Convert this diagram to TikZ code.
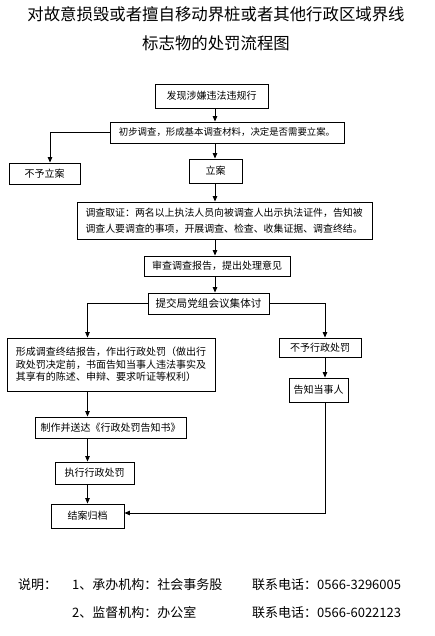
\documentclass[tikz,border=0pt]{standalone}
\usepackage{fontspec}
\newfontfamily\cjk{Noto Sans CJK SC}
\usetikzlibrary{arrows.meta}
\begin{document}
\begin{tikzpicture}[x=1pt,y=-1pt,
  box/.style={draw=black,line width=0.9pt,rectangle,inner sep=0pt,font=\cjk\fontsize{10}{12}\selectfont,align=center},
  para/.style={draw=black,line width=0.9pt,rectangle,inner ysep=0pt,align=left},
  arr/.style={line width=0.8pt,-{Triangle[length=5.5pt,width=4.5pt]}},
  ln/.style={line width=0.8pt},
  foot/.style={anchor=west,inner sep=0pt,font=\cjk\fontsize{13}{15}\selectfont}]
\fill[white] (0,0) rectangle (435,636);
\useasboundingbox (0,0) rectangle (435,636);
% title
\node[font=\cjk\fontsize{16.4}{18}\selectfont,inner sep=0pt] (t1) at (216,14) {对故意损毁或者擅自移动界桩或者其他行政区域界线};
\node[font=\cjk\fontsize{16.4}{18}\selectfont,inner sep=0pt] (t2) at (216,43) {标志物的处罚流程图};
% column coordinates
\coordinate (col) at (215,0);
\coordinate (lcol) at (87.5,0);
\coordinate (rcol) at (325,0);
% boxes
\node[box,minimum width=113pt,minimum height=24pt] (find) at (211.5,96) {发现涉嫌违法违规行};
\node[box,minimum width=234pt,minimum height=21pt,font=\cjk\fontsize{9.4}{12}\selectfont] (prelim) at (227,132.5) {初步调查，形成基本调查材料，决定是否需要立案。};
\node[box,minimum width=71pt,minimum height=21pt] (noli) at (44.5,173.5) {不予立案};
\node[box,minimum width=53pt,minimum height=24pt] (lian) at (215.5,171) {立案};
\node[para,text width=278pt,inner xsep=8.5pt,minimum height=37pt,font=\cjk\fontsize{9.9}{16}\selectfont] (inv) at (224.5,220.5) {调查取证：两名以上执法人员向被调查人出示执法证件，告知被\\调查人要调查的事项，开展调查、检查、收集证据、调查终结。};
\node[box,minimum width=146pt,minimum height=20pt] (review) at (217,266) {审查调查报告，提出处理意见};
\node[box,minimum width=121pt,minimum height=21pt,font=\cjk\fontsize{10.6}{12}\selectfont] (submit) at (208.5,303.5) {提交局党组会议集体讨};
\node[para,text width=190pt,inner xsep=9pt,minimum height=53pt,font=\cjk\fontsize{10}{12.6}\selectfont] (form) at (111,364.5) {形成调查终结报告，作出行政处罚（做出行\\政处罚决定前，书面告知当事人违法事实及\\其享有的陈述、申辩、要求听证等权利）};
\node[box,minimum width=82pt,minimum height=19pt] (nopen) at (320,347.5) {不予行政处罚};
\node[box,minimum width=59pt,minimum height=24pt] (notify) at (318.5,390) {告知当事人};
\node[box,minimum width=151pt,minimum height=21pt] (make) at (110.5,427.5) {制作并送达《行政处罚告知书》};
\node[box,minimum width=79pt,minimum height=22pt] (exec) at (94.5,473) {执行行政处罚};
\node[box,minimum width=73pt,minimum height=24pt] (close) at (87.5,516) {结案归档};
% connectors
\draw[arr] (find.south -| col) -- (prelim.north -| col);
\draw[arr] (prelim.west) -| ([xshift=5.5pt]noli.north);
\draw[arr] (prelim.south -| col) -- (lian.north -| col);
\draw[arr] (lian.south -| col) -- (inv.north -| col);
\draw[arr] (inv.south -| col) -- (review.north -| col);
\draw[arr] (review.south -| col) -- (submit.north -| col);
\draw[arr] (submit.west) -| (form.north -| lcol);
\draw[arr] (submit.east) -| (nopen.north -| rcol);
\draw[arr] (nopen.south -| rcol) -- (notify.north -| rcol);
\draw[arr] (form.south -| lcol) -- (make.north -| lcol);
\draw[arr] (make.south -| lcol) -- (exec.north -| lcol);
\draw[arr] (exec.south -| lcol) -- (close.north -| lcol);
\draw[arr] (notify.south -| rcol) |- ([yshift=3pt]close.east);
% footer
\node[foot] (f0) at (18,585) {说明：};
\node[foot] (f1) at (72,585) {1、承办机构：社会事务股};
\node[foot] (f2) at (252,585) {联系电话：0566-3296005};
\node[foot] (f3) at (72,613) {2、监督机构：办公室};
\node[foot] (f4) at (252,613) {联系电话：0566-6022123};
\end{tikzpicture}
\end{document}
